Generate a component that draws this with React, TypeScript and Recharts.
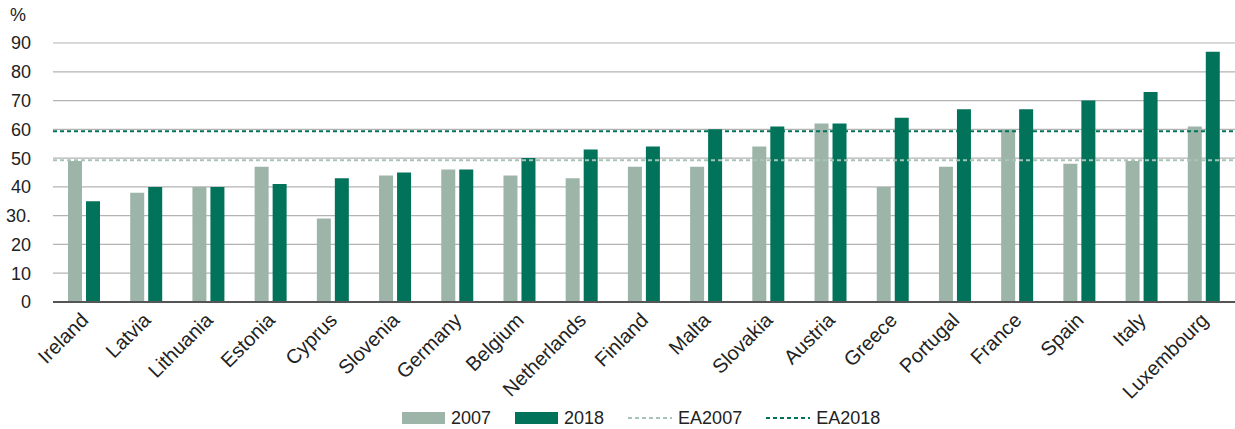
import { Bar, BarChart, CartesianGrid, ReferenceLine, XAxis, YAxis } from "recharts";

const countries = [
  "Ireland", "Latvia", "Lithuania", "Estonia", "Cyprus", "Slovenia", "Germany",
  "Belgium", "Netherlands", "Finland", "Malta", "Slovakia", "Austria", "Greece",
  "Portugal", "France", "Spain", "Italy", "Luxembourg",
];
const y2007 = [49, 38, 40, 47, 29, 44, 46, 44, 43, 47, 47, 54, 62, 40, 47, 60, 48, 49, 61];
const y2018 = [35, 40, 40, 41, 43, 45, 46, 50, 53, 54, 60, 61, 62, 64, 67, 67, 70, 73, 87];
const ea2007 = 49.3;
const ea2018 = 59.3;
const yTicks = [0, 10, 20, 30, 40, 50, 60, 70, 80, 90];
const yLabels = ["0", "10", "20", "30.", "40", "50", "60", "70", "80", "90"];

const LIGHT = "#9db5a8";
const DARK = "#00735a";
const TEXT = "#222";
const FONT = '"Liberation Sans", Arial, Helvetica, sans-serif';

const data = countries.map((c, i) => ({ country: c, a: y2007[i], b: y2018[i] }));

function YTick({ y, payload }: any) {
  const idx = yTicks.indexOf(payload.value);
  return (
    <text x={31} y={y} dy="0.36em" textAnchor="end" fontSize={18} fill={TEXT} fontFamily={FONT}>
      {yLabels[idx]}
    </text>
  );
}

function XTick({ x, y, payload }: any) {
  return (
    <g transform={`translate(${x - 3},${y + 3})`}>
      <text x={0} y={0} dy={12} textAnchor="end" transform="rotate(-45)" fontSize={20} fill={TEXT} fontFamily={FONT}>
        {payload.value}
      </text>
    </g>
  );
}

function LegendItem({ kind, color, label }: { kind: "box" | "dash"; color: string; label: string }) {
  return (
    <div style={{ display: "flex", alignItems: "center", marginRight: 24 }}>
      {kind === "box" ? (
        <div style={{ width: 43, height: 12, background: color, marginRight: 6 }} />
      ) : (
        <svg width={44} height={12} style={{ marginRight: 6 }}>
          <line x1={0} y1={6} x2={44} y2={6} stroke={color} strokeWidth={2} strokeDasharray="4 3" />
        </svg>
      )}
      <span>{label}</span>
    </div>
  );
}

export default function App() {
  return (
    <div style={{ position: "relative", width: 1235, height: 429, fontFamily: FONT, color: TEXT, background: "#fff" }}>
      <style>{`body{margin:0}`}</style>
      <div style={{ position: "absolute", left: 10, top: 5, fontSize: 18 }}>%</div>
      <BarChart
        width={1235}
        height={429}
        data={data}
        margin={{ top: 43, right: 0, left: 0, bottom: 37 }}
        barSize={14}
        barGap={4}
      >
        <CartesianGrid vertical={false} stroke="#b3b3b3" strokeWidth={1.2} />
        <XAxis
          dataKey="country"
          interval={0}
          height={90}
          tick={<XTick />}
          tickLine={false}
          axisLine={{ stroke: "#555", strokeWidth: 2 }}
        />
        <YAxis
          width={53}
          domain={[0, 90]}
          ticks={yTicks}
          tick={<YTick />}
          tickLine={false}
          axisLine={false}
        />
        <Bar dataKey="a" fill={LIGHT} isAnimationActive={false} />
        <Bar dataKey="b" fill={DARK} isAnimationActive={false} />
        <ReferenceLine y={ea2007} stroke="#a9c4b6" strokeWidth={2} strokeDasharray="4 3" />
        <ReferenceLine y={ea2018} stroke={DARK} strokeWidth={2} strokeDasharray="4 3" />
      </BarChart>
      <div
        style={{
          position: "absolute",
          left: 402,
          top: 408,
          display: "flex",
          fontSize: 18,
          lineHeight: "20px",
        }}
      >
        <LegendItem kind="box" color={LIGHT} label="2007" />
        <LegendItem kind="box" color={DARK} label="2018" />
        <LegendItem kind="dash" color="#a9c4b6" label="EA2007" />
        <LegendItem kind="dash" color={DARK} label="EA2018" />
      </div>
    </div>
  );
}
